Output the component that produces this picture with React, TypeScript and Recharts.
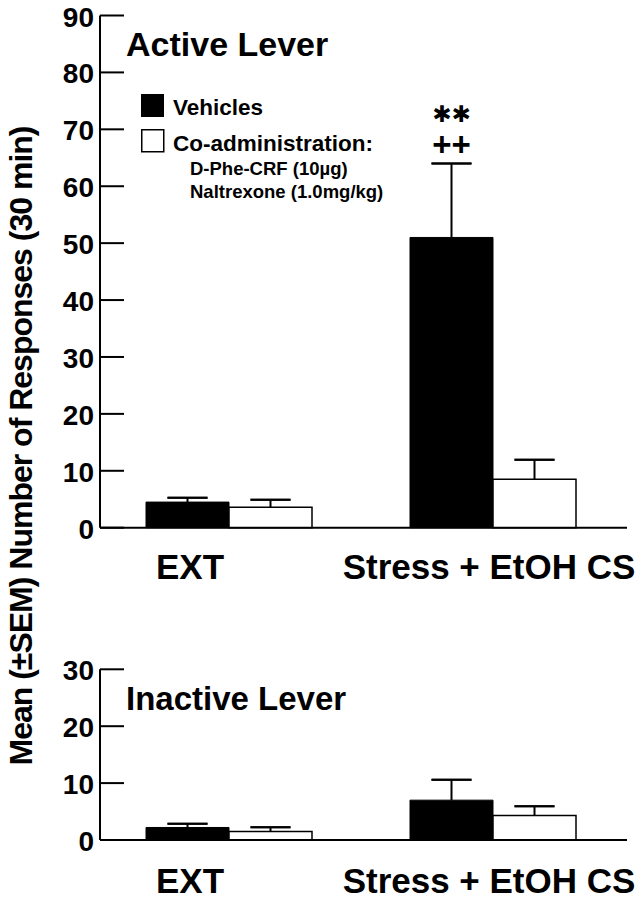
import React from 'react';
import { BarChart, Bar, XAxis, YAxis, ErrorBar, LabelList } from 'recharts';

const categories = ['EXT', 'Stress + EtOH CS'];

// Active lever, means and SEM
const activeVehicle = [4.5, 51.0];
const activeVehicleSem = [0.75, 13.0];
const activeCoadmin = [3.6, 8.5];
const activeCoadminSem = [1.3, 3.45];

// Inactive lever
const inactiveVehicle = [2.2, 7.0];
const inactiveVehicleSem = [0.65, 3.6];
const inactiveCoadmin = [1.5, 4.3];
const inactiveCoadminSem = [0.75, 1.65];

const activeTicks = [0, 10, 20, 30, 40, 50, 60, 70, 80, 90];
const inactiveTicks = [0, 10, 20, 30];

const seriesNames = ['Vehicles', 'Co-administration:'];
const coadminDetails = ['D-Phe-CRF (10\u00B5g)', 'Naltrexone (1.0mg/kg)'];
const starMarks = ['', '\u2731\u2731'];
const plusMarks = ['', '++'];

const FONT = '"Liberation Sans", Arial, Helvetica, sans-serif';
// label nudges so the category names sit where the original put them
const X_LABEL_SHIFT: Record<string, number> = { 'EXT': -39, 'Stress + EtOH CS': -4 };

// stem goes value -> value+sem, cap only at the top (both cap ends collapsed there)
const makeRows = (veh: number[], vehSem: number[], co: number[], coSem: number[]) =>
  categories.map((name, i) => ({
    name,
    vehicle: veh[i],
    vehicleStem: [0, vehSem[i]],
    vehicleCap: [-vehSem[i], vehSem[i]],
    coadmin: co[i],
    coadminStem: [0, coSem[i]],
    coadminCap: [-coSem[i], coSem[i]],
  }));

const activeRows = makeRows(activeVehicle, activeVehicleSem, activeCoadmin, activeCoadminSem);
const inactiveRows = makeRows(inactiveVehicle, inactiveVehicleSem, inactiveCoadmin, inactiveCoadminSem);

const YTick = (props: any) => {
  const { x, y, payload } = props;
  return (
    <g>
      <line x1={x + 6} x2={x + 30} y1={y} y2={y} stroke="#000" strokeWidth={2} />
      <text x={x} y={y} dy={11} textAnchor="end" fontFamily={FONT} fontWeight="bold" fontSize={28} fill="#000">
        {payload.value}
      </text>
    </g>
  );
};

const XTick = (props: any) => {
  const { x, y, payload, labelDy } = props;
  const shift = X_LABEL_SHIFT[payload.value] ?? 0;
  return (
    <text x={x + shift} y={y} dy={labelDy} textAnchor="middle" fontFamily={FONT} fontWeight="bold" fontSize={35} fill="#000">
      {payload.value}
    </text>
  );
};

const renderSig = (props: any) => {
  const { x, y, width, height, value, index } = props;
  if (!starMarks[index]) return null;
  const k = height / value;
  const top = y - activeVehicleSem[index] * k;
  const cx = x + width / 2;
  return (
    <g>
      <text x={cx} y={top - 41} textAnchor="middle" fontFamily='"DejaVu Sans", sans-serif' fontSize={23} fill="#000">
        {starMarks[index]}
      </text>
      <text x={cx} y={top - 7} textAnchor="middle" fontFamily={FONT} fontWeight="bold" fontSize={33} fill="#000">
        {plusMarks[index]}
      </text>
    </g>
  );
};

function LeverChart({ rows, ticks, height, top, plotHeight, labelDy, marks }: {
  rows: any[]; ticks: number[]; height: number; top: number; plotHeight: number; labelDy: number; marks?: boolean;
}) {
  return (
    <BarChart
      width={644}
      height={height}
      data={rows}
      barGap={0}
      margin={{ top, right: 17, left: 0, bottom: 0 }}
    >
      <XAxis
        dataKey="name"
        height={height - top - plotHeight}
        axisLine={{ stroke: '#000', strokeWidth: 2 }}
        tickLine={false}
        tickSize={0}
        tickMargin={0}
        interval={0}
        padding={{ left: -3, right: 2 }}
        tick={<XTick labelDy={labelDy} />}
      />
      <YAxis
        domain={[0, ticks[ticks.length - 1]]}
        ticks={ticks}
        interval={0}
        width={100}
        tickSize={0}
        tickMargin={6}
        tickLine={false}
        axisLine={{ stroke: '#000', strokeWidth: 2 }}
        tick={<YTick />}
      />
      <Bar dataKey="vehicle" fill="#000" stroke="#000" strokeWidth={1} barSize={83} isAnimationActive={false}>
        <ErrorBar dataKey="vehicleStem" width={0} stroke="#000" strokeWidth={2} />
        <ErrorBar dataKey="vehicleCap" width={20} stroke="#000" strokeWidth={2} />
        {marks && <LabelList dataKey="vehicle" content={renderSig} />}
      </Bar>
      <Bar dataKey="coadmin" fill="#fff" stroke="#000" strokeWidth={1.5} barSize={83} isAnimationActive={false}>
        <ErrorBar dataKey="coadminStem" width={0} stroke="#000" strokeWidth={2} />
        <ErrorBar dataKey="coadminCap" width={20} stroke="#000" strokeWidth={2} />
      </Bar>
    </BarChart>
  );
}

export default function App() {
  return (
    <div style={{ position: 'absolute', left: 0, top: 0, width: 644, height: 900, background: '#fff' }}>
      <div style={{ position: 'absolute', left: 0, top: 0 }}>
        <LeverChart rows={activeRows} ticks={activeTicks} height={600} top={15.5} plotHeight={512.2} labelDy={51} marks />
      </div>
      <div style={{ position: 'absolute', left: 0, top: 600 }}>
        <LeverChart rows={inactiveRows} ticks={inactiveTicks} height={300} top={69.3} plotHeight={170.7} labelDy={53} />
      </div>
      <svg width={644} height={900} style={{ position: 'absolute', left: 0, top: 0, pointerEvents: 'none' }}>
        <text
          x={32}
          y={446}
          transform="rotate(-90, 32, 446)"
          textAnchor="middle"
          fontFamily={FONT}
          fontWeight="bold"
          fontSize={32}
          letterSpacing={-1}
          fill="#000"
        >
          Mean ({'\u00B1'}SEM) Number of Responses (30 min)
        </text>
        <text x={126} y={56} fontFamily={FONT} fontWeight="bold" fontSize={34} fill="#000">Active Lever</text>
        <text x={126} y={710} fontFamily={FONT} fontWeight="bold" fontSize={33} fill="#000">Inactive Lever</text>

        <rect x={141} y={94} width={23} height={23} fill="#000" />
        <rect x={141.75} y={129.75} width={22} height={22} fill="#fff" stroke="#000" strokeWidth={1.5} />
        <text x={173} y={115} fontFamily={FONT} fontWeight="bold" fontSize={22.5} fill="#000">{seriesNames[0]}</text>
        <text x={173} y={151} fontFamily={FONT} fontWeight="bold" fontSize={22.5} fill="#000">{seriesNames[1]}</text>
        <text x={190} y={175} fontFamily={FONT} fontWeight="bold" fontSize={18.5} fill="#000">{coadminDetails[0]}</text>
        <text x={190} y={198} fontFamily={FONT} fontWeight="bold" fontSize={18.5} fill="#000">{coadminDetails[1]}</text>
      </svg>
    </div>
  );
}
